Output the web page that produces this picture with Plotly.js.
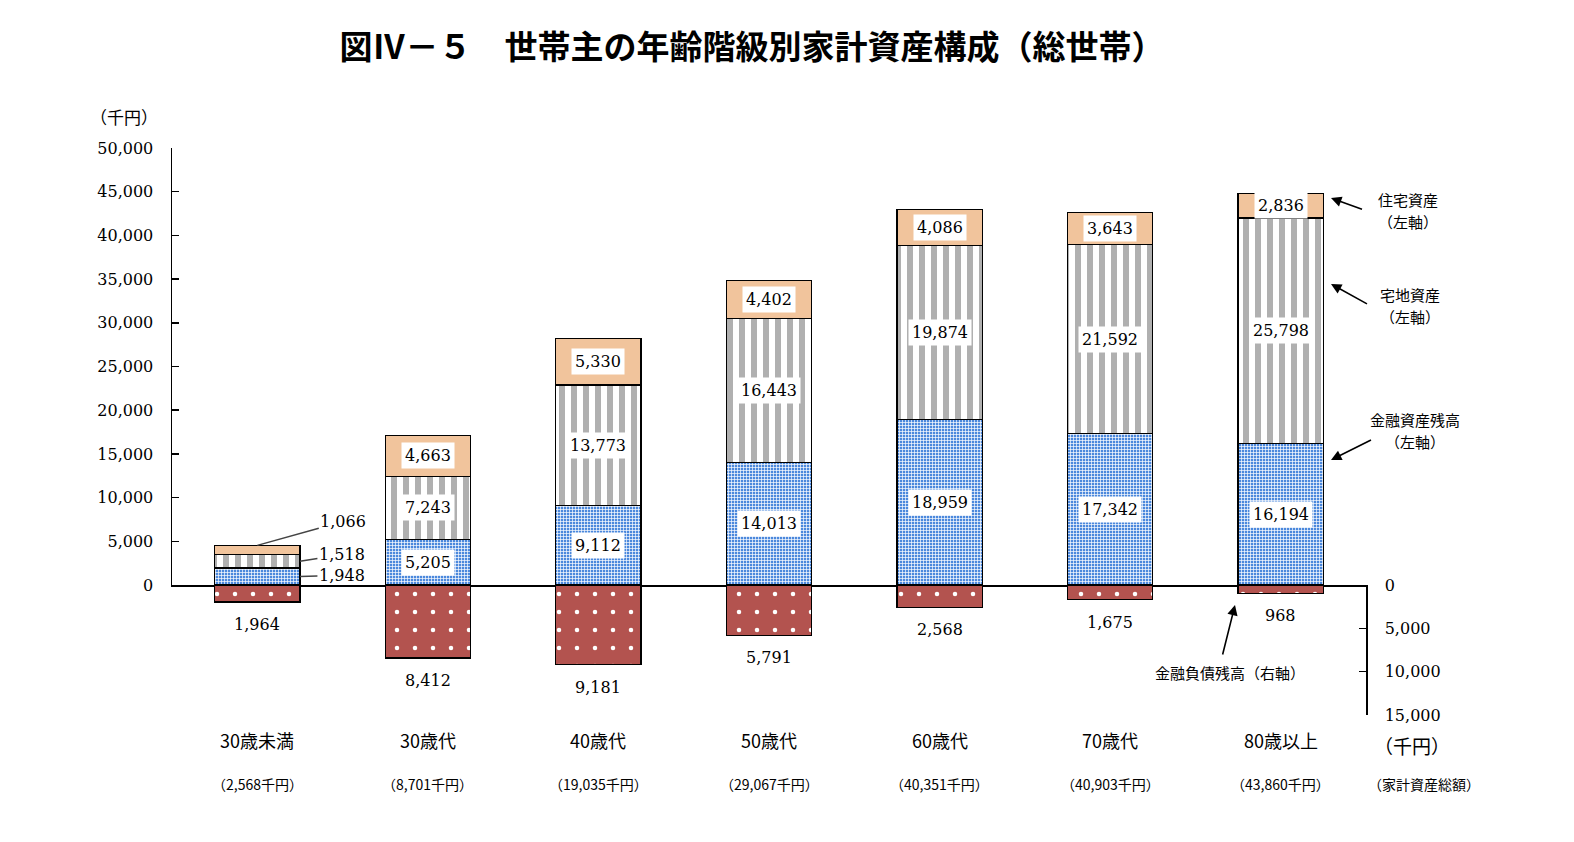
<!DOCTYPE html>
<html>
<head>
<meta charset="utf-8">
<script src="https://cdn.plot.ly/plotly-3.0.1.min.js"></script>
<style>
  body { margin: 0; background: #fff; }
  #plot { width: 1574px; height: 842px; }
</style>
</head>
<body>
<div id="plot"></div>
<script>
// 年齢階級
const cats = ['30歳未満', '30歳代', '40歳代', '50歳代', '60歳代', '70歳代', '80歳以上']
// 千円
const kinyuShisan = [1948, 5205, 9112, 14013, 18959, 17342, 16194]
const takuchiShisan = [1518, 7243, 13773, 16443, 19874, 21592, 25798]
const jutakuShisan = [1066, 4663, 5330, 4402, 4086, 3643, 2836]
const kinyuFusai = [1964, 8412, 9181, 5791, 2568, 1675, 968]
const soGaku = [2568, 8701, 19035, 29067, 40351, 40903, 43860]

const leftTicks = [0, 5000, 10000, 15000, 20000, 25000, 30000, 35000, 40000, 45000, 50000]
const rightTicks = [0, 5000, 10000, 15000]

const FONT = '"DejaVu Serif", "Noto Sans CJK JP", serif'
const JFONT = '"Noto Sans CJK JP", sans-serif'
const fmt = v => v.toLocaleString('en-US')

function draw() {
	try {
		var data = []
		const line = {color: '#000', width: 1.2}

		data.push({
			type: 'bar', x: cats, y: kinyuShisan, name: '金融資産残高',
			marker: {color: '#4b88dc', line: line,
				pattern: {shape: '+', size: 3, solidity: 0.4, fgcolor: '#ffffff', bgcolor: '#4b88dc'}},
			hoverinfo: 'skip'
		})
		data.push({
			type: 'bar', x: cats, y: takuchiShisan, name: '宅地資産',
			marker: {color: '#ffffff', line: line,
				pattern: {shape: '|', size: 12, solidity: 0.5, fgcolor: '#b0b0b0', bgcolor: '#ffffff'}},
			hoverinfo: 'skip'
		})
		data.push({
			type: 'bar', x: cats, y: jutakuShisan, name: '住宅資産',
			marker: {color: '#f1c49c', line: line},
			hoverinfo: 'skip'
		})
		// 負債は右軸（下向き）
		data.push({
			type: 'bar', x: cats, y: kinyuFusai, yaxis: 'y2', name: '金融負債残高',
			marker: {color: '#b3534f', line: line,
				pattern: {shape: '.', size: 18, solidity: 0.05, fgcolor: '#ffffff', bgcolor: '#b3534f'}},
			hoverinfo: 'skip'
		})

		const PL = 172, PT = 148, PW = 1194, PH = 567
		const px = x => (x - PL) / PW
		const py = y => (PT + PH - y) / PH
		const d = 130 / PH

		var ann = []
		const lblFont = {family: FONT, size: 16, color: '#000'}
		const mid = {xanchor: 'center', yanchor: 'middle', showarrow: false}

		// 内訳ラベル
		for (var i = 0; i < cats.length; i++) {
			var a = kinyuShisan[i], b = takuchiShisan[i], c = jutakuShisan[i]
			if (i == 0) {
				ann.push({x: i, y: a + b + c, xref: 'x', yref: 'y', text: fmt(c), font: lblFont,
					showarrow: true, arrowhead: 0, arrowwidth: 1.5, ax: 86, ay: -24})
				ann.push({x: i + 0.25, y: a + b / 2, xref: 'x', yref: 'y', text: fmt(b), font: lblFont,
					showarrow: true, arrowhead: 0, arrowwidth: 1.5, ax: 42, ay: -7})
				ann.push({x: i + 0.25, y: a / 2, xref: 'x', yref: 'y', text: fmt(a), font: lblFont,
					showarrow: true, arrowhead: 0, arrowwidth: 1.5, ax: 42, ay: -1})
			} else {
				ann.push(Object.assign({x: cats[i], y: a / 2, xref: 'x', yref: 'y', text: fmt(a), font: lblFont,
					bgcolor: '#fff', borderpad: 3}, mid))
				ann.push(Object.assign({x: cats[i], y: a + b / 2, xref: 'x', yref: 'y', text: fmt(b), font: lblFont,
					bgcolor: '#fff', borderpad: 3}, mid))
				ann.push(Object.assign({x: cats[i], y: a + b + c / 2, xref: 'x', yref: 'y', text: fmt(c), font: lblFont,
					bgcolor: '#fff', borderpad: 3}, mid))
			}
			ann.push({x: cats[i], y: kinyuFusai[i], xref: 'x', yref: 'y2', text: fmt(kinyuFusai[i]), font: lblFont,
				showarrow: false, xanchor: 'center', yanchor: 'top', yshift: -11})
			// 年齢階級と総額
			ann.push(Object.assign({x: cats[i], y: py(740), xref: 'x', yref: 'paper', text: cats[i],
				font: {family: JFONT, size: 18, color: '#000'}}, mid))
			ann.push(Object.assign({x: cats[i], y: py(784), xref: 'x', yref: 'paper', text: '（' + fmt(soGaku[i]) + '千円）',
				font: {family: JFONT, size: 14, color: '#000'}}, mid))
		}

		ann.push(Object.assign({x: px(124), y: py(116), xref: 'paper', yref: 'paper', text: '（千円）',
			font: {family: JFONT, size: 17}}, mid))
		ann.push(Object.assign({x: px(1412), y: py(745), xref: 'paper', yref: 'paper', text: '（千円）',
			font: {family: JFONT, size: 19}}, mid))
		ann.push(Object.assign({x: px(1424), y: py(784), xref: 'paper', yref: 'paper', text: '（家計資産総額）',
			font: {family: JFONT, size: 14}}, mid))

		// 凡例の説明と矢印
		const note = (x, y, t, size) => Object.assign({x: px(x), y: py(y), xref: 'paper', yref: 'paper', text: t,
			font: {family: JFONT, size: size || 15, color: '#000'}}, mid)
		const arrow = (x, y, ax, ay) => ({x: px(x), y: py(y), xref: 'paper', yref: 'paper', text: ' ',
			font: {size: 2}, showarrow: true, arrowhead: 2, arrowsize: 1.3, arrowwidth: 1.6, arrowcolor: '#000',
			ax: ax, ay: ay, standoff: 0, startstandoff: 0})
		ann.push(note(1408, 199, '住宅資産'), note(1408, 221, '（左軸）'))
		ann.push(note(1410, 294, '宅地資産'), note(1410, 316, '（左軸）'))
		ann.push(note(1415, 419, '金融資産残高'), note(1415, 441, '（左軸）'))
		ann.push(note(1230, 672, '金融負債残高（右軸）'))
		ann.push(arrow(1331, 198, 33, 12))
		ann.push(arrow(1331, 284, 38, 21))
		ann.push(arrow(1331, 460, 42, -21))
		ann.push(arrow(1235, 605, -13, 52))

		const axisFont = {family: FONT, size: 16, color: '#000'}
		const layout = {
			width: 1574, height: 842,
			margin: {l: PL, r: 1574 - PL - PW, t: PT, b: 842 - PT - PH, pad: 0},
			paper_bgcolor: '#fff', plot_bgcolor: 'rgba(0,0,0,0)',
			showlegend: false,
			barmode: 'stack', bargap: 0.5,
			font: {family: FONT, color: '#000'},
			title: {
				text: '<b>図Ⅳ－５　世帯主の年齢階級別家計資産構成（総世帯）</b>',
				font: {family: JFONT, size: 33, color: '#000'},
				x: 752 / 1574, xanchor: 'center', xref: 'container',
				y: 1 - 47 / 842, yanchor: 'middle', yref: 'container'
			},
			xaxis: {
				type: 'category', range: [-0.5, 6.5], anchor: 'y',
				showticklabels: false, ticks: '', showgrid: false, zeroline: false,
				showline: true, linecolor: '#000', linewidth: 1.5, fixedrange: true
			},
			yaxis: {
				domain: [d, 1], range: [0, 50000], anchor: 'x',
				tickvals: leftTicks, ticktext: leftTicks.map(fmt),
				ticks: 'inside', ticklen: 7, tickcolor: '#000', tickwidth: 1.5,
				showline: true, linecolor: '#000', linewidth: 1.5,
				showgrid: false, zeroline: false, tickfont: axisFont, ticklabelstandoff: 14
			},
			yaxis2: {
				domain: [0, d], range: [15000, 0], anchor: 'x', side: 'right',
				tickvals: rightTicks, ticktext: rightTicks.map(fmt),
				ticks: 'inside', ticklen: 7, tickcolor: '#000', tickwidth: 1.5,
				showline: true, linecolor: '#000', linewidth: 1.5,
				showgrid: false, zeroline: false, tickfont: axisFont, ticklabelstandoff: 14
			},
			annotations: ann
		}

		Plotly.newPlot('plot', data, layout, {staticPlot: true})
	}
	catch (err) {
		console.log(err)
	}
}

draw()
</script>
</body>
</html>
